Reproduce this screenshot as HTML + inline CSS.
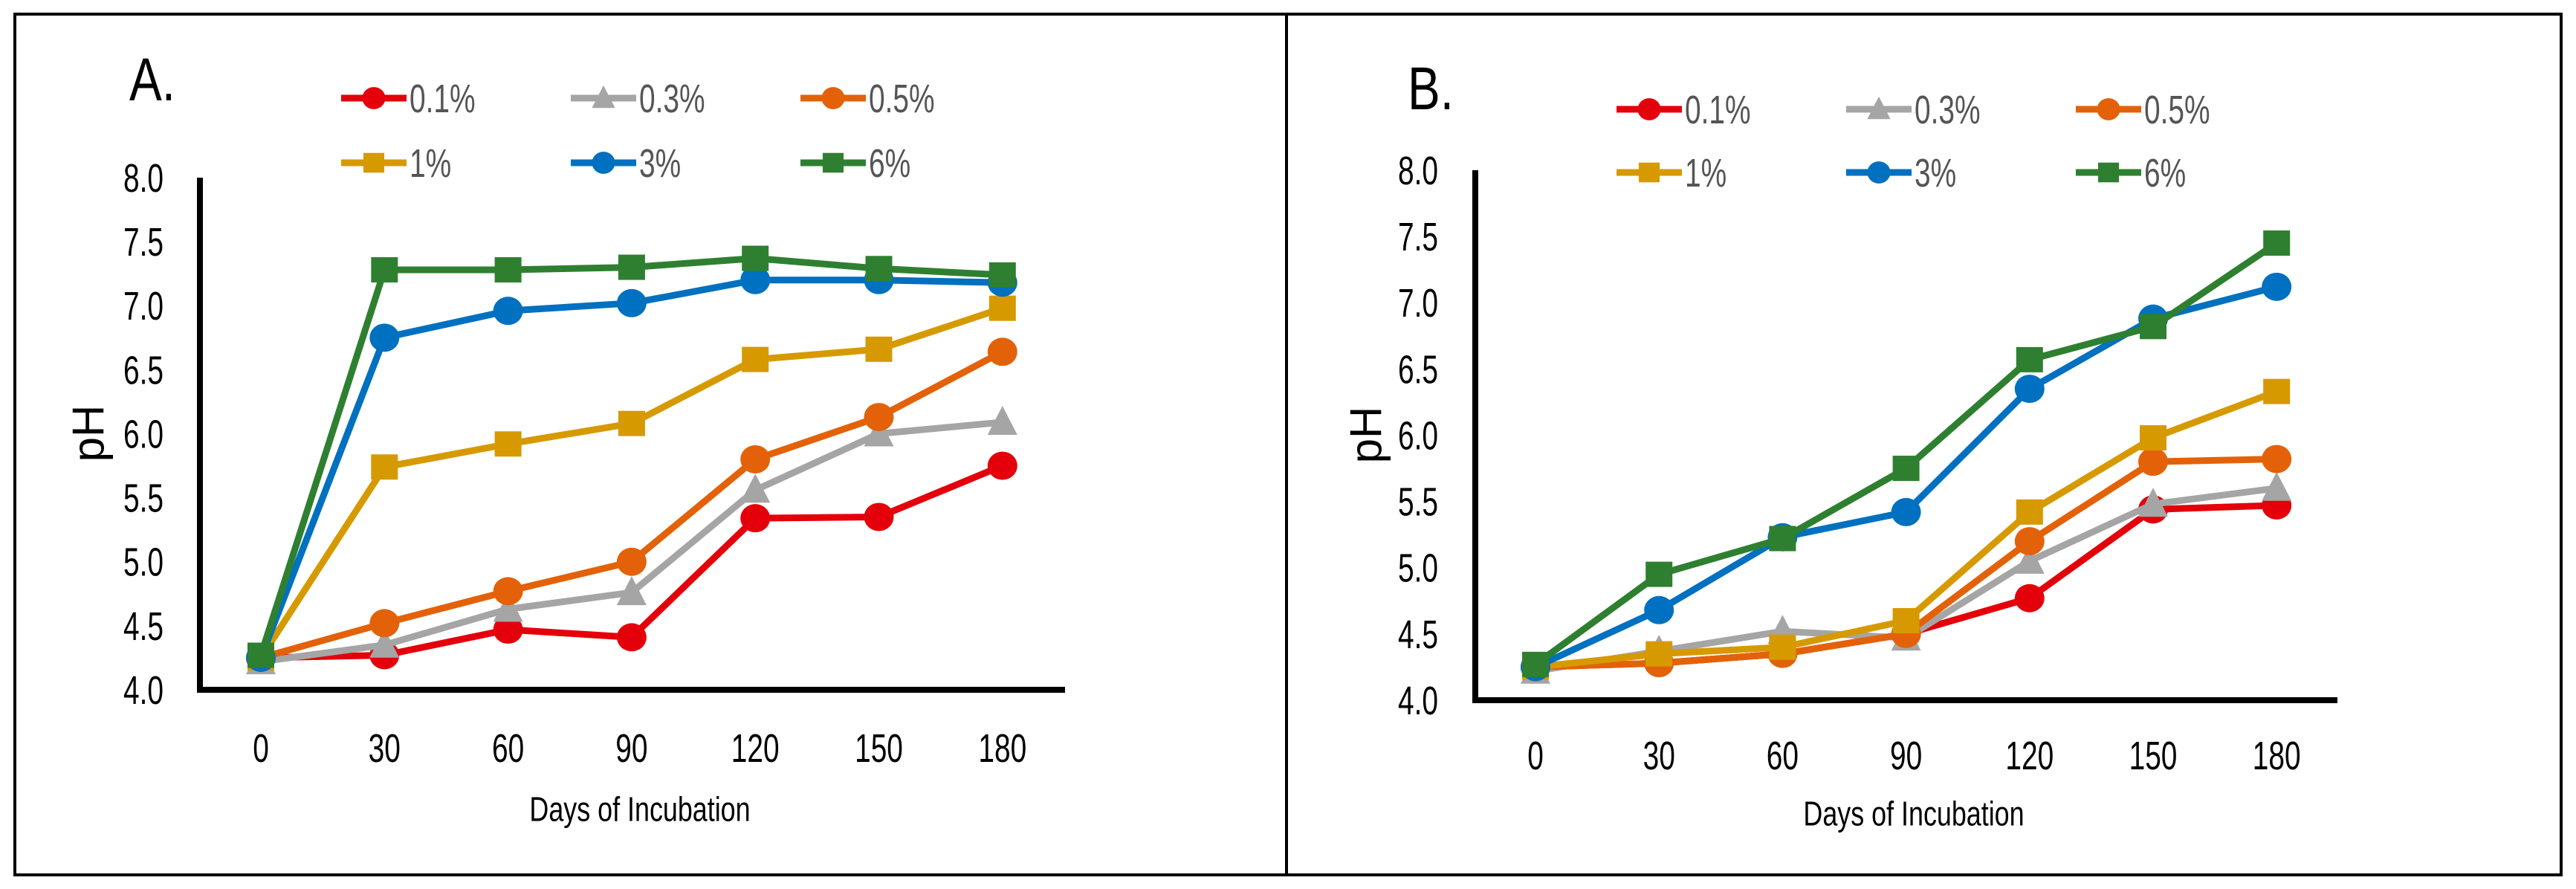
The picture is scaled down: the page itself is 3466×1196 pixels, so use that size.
<!DOCTYPE html>
<html><head><meta charset="utf-8"><style>
html,body{margin:0;padding:0;background:#fff;}
svg{display:block;font-family:"Liberation Sans",sans-serif;}
</style></head><body>
<svg id="svg" width="3466" height="1196" viewBox="0 0 3466 1196" xmlns="http://www.w3.org/2000/svg">
<rect x="20" y="19" width="1711" height="1158" fill="none" stroke="#000" stroke-width="4"/>
<rect x="1731" y="19" width="1715" height="1158" fill="none" stroke="#000" stroke-width="4"/>
</svg>
<script>
const categories=[0,30,60,90,120,150,180];
const yTicks=[4.0,4.5,5.0,5.5,6.0,6.5,7.0,7.5,8.0];
const seriesNames=["0.1%","0.3%","0.5%","1%","3%","6%"];
const seriesColors=["#e3000b","#a5a5a5","#e36209","#d69a00","#0070c0","#2e8030"];
const seriesMarkers=["circle","triangle","circle","square","circle","square"];
const a01=[4.25,4.27,4.47,4.41,5.34,5.35,5.75];
const a03=[4.22,4.35,4.63,4.76,5.56,6.0,6.09];
const a05=[4.25,4.52,4.77,5.0,5.8,6.13,6.64];
const a1=[4.25,5.74,5.92,6.08,6.58,6.66,6.98];
const a3=[4.25,6.75,6.96,7.02,7.2,7.2,7.18];
const a6=[4.27,7.28,7.28,7.3,7.37,7.29,7.24];
const b01=[4.25,4.28,4.35,4.5,4.77,5.44,5.47];
const b03=[4.22,4.37,4.52,4.47,5.05,5.48,5.6];
const b05=[4.25,4.28,4.35,4.5,5.2,5.8,5.82];
const b1=[4.25,4.35,4.4,4.6,5.42,5.98,6.33];
const b3=[4.25,4.68,5.23,5.42,6.35,6.88,7.12];
const b6=[4.27,4.95,5.22,5.75,6.57,6.82,7.45];

const NS="http://www.w3.org/2000/svg";
const svg=document.getElementById('svg');
function mk(tag,attrs,parent){const e=document.createElementNS(NS,tag);for(const k in attrs)e.setAttribute(k,attrs[k]);(parent||svg).appendChild(e);return e;}
function txt(x,y,s,size,anchor,sx,parent){
  const g=mk('g',{transform:`translate(${x},${y}) scale(${sx},1)`},parent);
  const t=mk('text',{x:0,y:0,'font-size':size,'text-anchor':anchor,'dominant-baseline':'central',fill:'#000'},g);
  t.textContent=s;return t;}

function panel(cfg,data,key){
  const X=i=>cfg.x0+i*cfg.step;
  const Y=v=>cfg.yb-(v-4)*(cfg.yb-cfg.yt)/4;
  const g=mk('g',{});
  
  
  const lbl=txt(cfg.lx,cfg.ly,key==='a'?'A.':'B.',82,'middle',0.8,g);
  
  
  yTicks.forEach(v=>{const t=txt(cfg.tx,Y(v),v.toFixed(1),54,'middle',0.72,g);
    
    });
  categories.forEach((c,i)=>{const t=txt(X(i),cfg.xly,String(c),54,'middle',0.72,g);
    
    });
  const xt=txt((cfg.ax+cfg.axr)/2+10,cfg.xty,'Days of Incubation',46,'middle',0.78,g);
  
  
  const yg=mk('g',{transform:`translate(${cfg.px},${cfg.py}) rotate(-90)`},g);
  const yt=mk('text',{x:0,y:0,'font-size':60,'text-anchor':'middle','dominant-baseline':'central'},yg);
  yt.textContent='pH';
  
  
  const ya=mk('line',{x1:cfg.ax,y1:cfg.yt,x2:cfg.ax,y2:cfg.yb+4,stroke:'#000','stroke-width':8},g);
  
  
  const xa=mk('line',{x1:cfg.ax-4,y1:cfg.yb,x2:cfg.axr,y2:cfg.yb,stroke:'#000','stroke-width':8},g);
  
  
  function marker(type,x,y,col,par,s){
    let m;
    if(type==='circle')m=mk('ellipse',{cx:x,cy:y,rx:20*s,ry:19*s,fill:col},par);
    else if(type==='square')m=mk('rect',{x:x-18*s,y:y-17*s,width:36*s,height:34*s,fill:col},par);
    else m=mk('polygon',{points:`${x},${y-22*s} ${x+20*s},${y+17*s} ${x-20*s},${y+17*s}`,fill:col},par);
    return m;}
  data.forEach((arr,si)=>{
    const sg=mk('g',{},g);
    
    
    const pl=mk('polyline',{points:arr.map((v,i)=>X(i)+','+Y(v)).join(' '),fill:'none',stroke:seriesColors[si],'stroke-width':9,'stroke-linejoin':'round'},sg);
    
    
    arr.forEach((v,i)=>{const m=marker(seriesMarkers[si],X(i),Y(v),seriesColors[si],sg,1);
      
      });
    const lx=cfg.legx+(si%3)*309, ly=si<3?cfg.leg1:cfg.leg2;
    const lg=mk('g',{},g);
    
    
    mk('line',{x1:lx,y1:ly,x2:lx+88,y2:ly,stroke:seriesColors[si],'stroke-width':9},lg);
    marker(seriesMarkers[si],lx+44,ly,seriesColors[si],lg,0.78);
    const lt=txt(lx+92,ly,seriesNames[si],54,'start',0.72,lg);
    lt.setAttribute('fill','#555');
  });
}
panel({x0:351,step:166.3,yb:928,yt:239,ax:269,axr:1433,tx:193,xly:1006,xty:1089,px:119,py:583,lx:205,ly:107,legx:459,leg1:132,leg2:219},[a01,a03,a05,a1,a3,a6],'a');
panel({x0:2066,step:166.2,yb:942,yt:229,ax:1985,axr:3145,tx:1908,xly:1016,xty:1095,px:1838,py:585,lx:1925,ly:119,legx:2175,leg1:147,leg2:232},[b01,b03,b05,b1,b3,b6],'b');
</script>
</body></html>
